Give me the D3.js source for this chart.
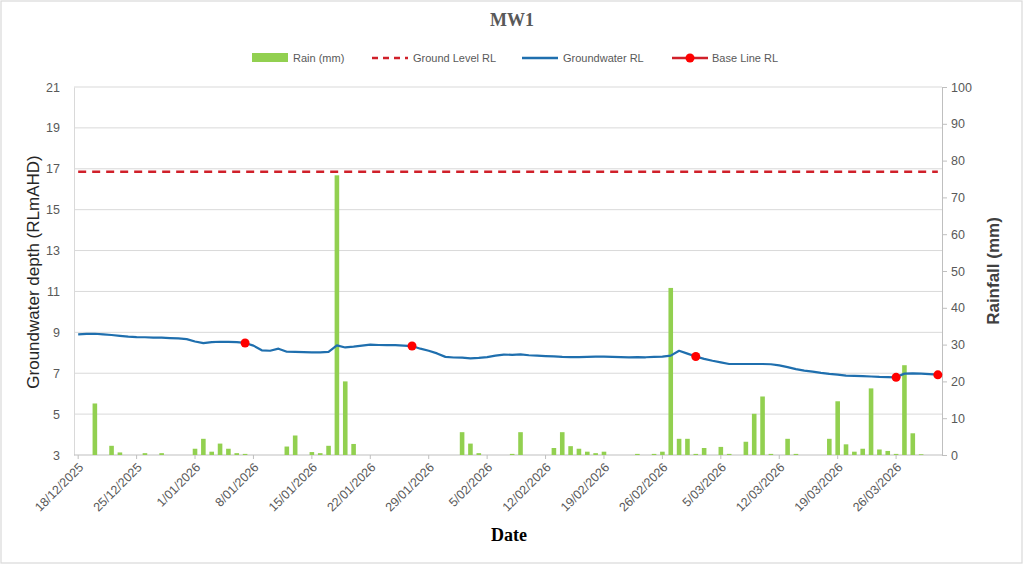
<!DOCTYPE html>
<html><head><meta charset="utf-8">
<script src="https://cdn.jsdelivr.net/npm/d3@7"></script>
<style>
html,body{margin:0;padding:0;background:#fff;}
svg{display:block;}
</style></head>
<body>
<svg id="chart" width="1024" height="565"></svg>
<script>
// ---- data ----
const startDate = "2025-12-18";
const endDate = "2026-03-31";
const rainMM = [0,0,14.0,0,2.5,0.7,0,0,0.5,0,0.5,0,0,0,1.7,4.4,0.9,3.1,1.7,0.5,0.3,0,0,0,0,2.3,5.3,0,0.8,0.5,2.5,76,20,3.0,0,0,0,0,0,0,0,0,0,0,0,0,6.2,3.1,0.5,0,0,0,0.3,6.2,0,0,0,1.9,6.2,2.4,1.7,0.9,0.5,0.9,0,0,0,0.3,0,0.3,0.9,45.4,4.4,4.4,0.3,1.9,0,2.2,0.3,0,3.6,11.2,15.9,0.3,0,4.4,0.3,0,0,0,4.4,14.6,2.9,0.9,1.7,18.1,1.5,1.1,0.3,24.4,5.9,0.2,0,0];
const groundwaterRL = [8.90,8.92,8.93,8.90,8.87,8.83,8.79,8.77,8.76,8.74,8.74,8.72,8.70,8.67,8.55,8.47,8.52,8.54,8.53,8.52,8.48,8.35,8.12,8.10,8.20,8.05,8.04,8.03,8.02,8.02,8.04,8.36,8.26,8.30,8.35,8.40,8.38,8.37,8.37,8.35,8.33,8.20,8.10,7.97,7.80,7.77,7.76,7.73,7.75,7.79,7.86,7.91,7.90,7.92,7.88,7.86,7.84,7.82,7.80,7.79,7.79,7.80,7.81,7.81,7.80,7.79,7.78,7.79,7.78,7.80,7.81,7.86,8.10,7.96,7.82,7.70,7.61,7.53,7.45,7.45,7.45,7.45,7.45,7.44,7.38,7.30,7.20,7.13,7.08,7.02,6.97,6.93,6.88,6.87,6.86,6.84,6.82,6.81,6.80,6.98,6.99,6.98,6.96,6.93];
const groundLevelRL = 16.85;
const baseLineDates = ["2026-01-07","2026-01-27","2026-03-02","2026-03-26","2026-03-31"];
const baseLineRL = [8.48,8.33,7.82,6.80,6.92];
const xTickLabels = ["18/12/2025","25/12/2025","1/01/2026","8/01/2026","15/01/2026","22/01/2026","29/01/2026","5/02/2026","12/02/2026","19/02/2026","26/02/2026","5/03/2026","12/03/2026","19/03/2026","26/03/2026"];
const leftTicks = [3,5,7,9,11,13,15,17,19,21];
const rightTicks = [0,10,20,30,40,50,60,70,80,90,100];

// ---- setup ----
const parse = d3.timeParse("%Y-%m-%d");
const fmtKey = d3.timeFormat("%Y-%m-%d");
const days = d3.timeDay.range(parse(startDate), d3.timeDay.offset(parse(endDate),1));
const keys = days.map(fmtKey);
const parseLabel = d3.timeParse("%d/%m/%Y");

const svg = d3.select("#chart");
const L = 74, R = 942, T = 87, B = 455;

svg.append("rect").attr("x",1).attr("y",1).attr("width",1021).attr("height",562)
  .attr("fill","#fff").attr("stroke","#d9d9d9").attr("stroke-width",1.2);

const x = d3.scaleBand().domain(keys).range([L,R]).paddingInner(0.45).paddingOuter(0.225);
const xc = k => x(k) + x.bandwidth()/2;
const yL = d3.scaleLinear().domain([3,21]).range([B,T]);
const yR = d3.scaleLinear().domain([0,100]).range([B,T]);

// gridlines
svg.append("g").selectAll("line").data(leftTicks.slice(1)).join("line")
  .attr("x1",L).attr("x2",R).attr("y1",d=>yL(d)).attr("y2",d=>yL(d))
  .attr("stroke","#d9d9d9").attr("stroke-width",1);

// left axis
const gL = svg.append("g").attr("transform",`translate(${L},0)`)
  .call(d3.axisLeft(yL).tickValues(leftTicks).tickSize(0).tickPadding(14));
gL.select(".domain").attr("stroke","#d9d9d9");
gL.selectAll("text").attr("fill","#595959").attr("font-family","Liberation Sans, Arial, sans-serif").attr("font-size",12.5);

// right axis
const gR = svg.append("g").attr("transform",`translate(${R},0)`)
  .call(d3.axisRight(yR).tickValues(rightTicks).tickSize(5).tickPadding(4));
gR.select(".domain").attr("stroke","#bfbfbf");
gR.selectAll(".tick line").attr("stroke","#bfbfbf");
gR.selectAll("text").attr("fill","#595959").attr("font-family","Liberation Sans, Arial, sans-serif").attr("font-size",12.5);

// bottom axis line
svg.append("line").attr("x1",L).attr("x2",R).attr("y1",B).attr("y2",B).attr("stroke","#bfbfbf");

// x tick labels
const gX = svg.append("g");
xTickLabels.forEach(lbl => {
  const k = fmtKey(parseLabel(lbl));
  const cx = xc(k);
  gX.append("line").attr("x1",cx).attr("x2",cx).attr("y1",B).attr("y2",B+4).attr("stroke","#bfbfbf");
  gX.append("text").attr("transform",`translate(${cx+3},${B+10}) rotate(-45)`)
    .attr("text-anchor","end").attr("dy","0.35em")
    .attr("fill","#595959").attr("font-family","Liberation Sans, Arial, sans-serif").attr("font-size",12.5)
    .text(lbl);
});

// rain bars
svg.append("g").selectAll("rect").data(rainMM.map((v,i)=>({k:keys[i],v}))).join("rect")
  .attr("x",d=>x(d.k)).attr("width",x.bandwidth())
  .attr("y",d=>yR(d.v)).attr("height",d=>B-yR(d.v))
  .attr("fill","#92D050");

// ground level dashed
svg.append("line").attr("x1",xc(keys[0])).attr("x2",xc(keys[keys.length-1]))
  .attr("y1",yL(groundLevelRL)).attr("y2",yL(groundLevelRL))
  .attr("stroke","#D0202A").attr("stroke-width",2.5).attr("stroke-dasharray","8,6");

// groundwater line
const line = d3.line().x((d,i)=>xc(keys[i])).y(d=>yL(d)).curve(d3.curveLinear);
svg.append("path").datum(groundwaterRL).attr("d",line)
  .attr("fill","none").attr("stroke","#1F6FAE").attr("stroke-width",2.2).attr("stroke-linejoin","round");

// base line points
svg.append("g").selectAll("circle").data(baseLineDates.map((d,i)=>({k:d,v:baseLineRL[i]}))).join("circle")
  .attr("cx",d=>xc(d.k)).attr("cy",d=>yL(d.v)).attr("r",4.5).attr("fill","#FF0000");

// title
svg.append("text").attr("x",512).attr("y",26).attr("text-anchor","middle")
  .attr("font-family","Liberation Serif, Times New Roman, serif").attr("font-weight","bold")
  .attr("font-size",18).attr("fill","#595959").text("MW1");

// axis titles
svg.append("text").attr("transform","translate(39,272) rotate(-90)").attr("text-anchor","middle")
  .attr("font-family","Liberation Sans, Arial, sans-serif").attr("font-size",17).attr("fill","#262626")
  .text("Groundwater depth (RLmAHD)");
svg.append("text").attr("transform","translate(999,271) rotate(-90)").attr("text-anchor","middle")
  .attr("font-family","Liberation Sans, Arial, sans-serif").attr("font-size",17).attr("font-weight","bold").attr("fill","#404040")
  .text("Rainfall (mm)");
svg.append("text").attr("x",509).attr("y",541).attr("text-anchor","middle")
  .attr("font-family","Liberation Serif, Times New Roman, serif").attr("font-weight","bold")
  .attr("font-size",18).attr("fill","#000").text("Date");

// legend
const lg = svg.append("g").attr("font-family","Liberation Sans, Arial, sans-serif").attr("font-size",11).attr("fill","#595959");
lg.append("rect").attr("x",252).attr("y",53).attr("width",36).attr("height",9).attr("fill","#92D050");
lg.append("text").attr("x",293).attr("y",62).text("Rain (mm)");
lg.append("line").attr("x1",372).attr("x2",408).attr("y1",58).attr("y2",58).attr("stroke","#D0202A").attr("stroke-width",2.5).attr("stroke-dasharray","6,5");
lg.append("text").attr("x",413).attr("y",62).text("Ground Level RL");
lg.append("line").attr("x1",522).attr("x2",558).attr("y1",58).attr("y2",58).attr("stroke","#1F6FAE").attr("stroke-width",2.5);
lg.append("text").attr("x",563).attr("y",62).text("Groundwater RL");
lg.append("line").attr("x1",672).attr("x2",708).attr("y1",58).attr("y2",58).attr("stroke","#D0202A").attr("stroke-width",2.5);
lg.append("circle").attr("cx",690).attr("cy",58).attr("r",4.5).attr("fill","#FF0000");
lg.append("text").attr("x",712).attr("y",62).text("Base Line RL");
</script>
</body></html>
